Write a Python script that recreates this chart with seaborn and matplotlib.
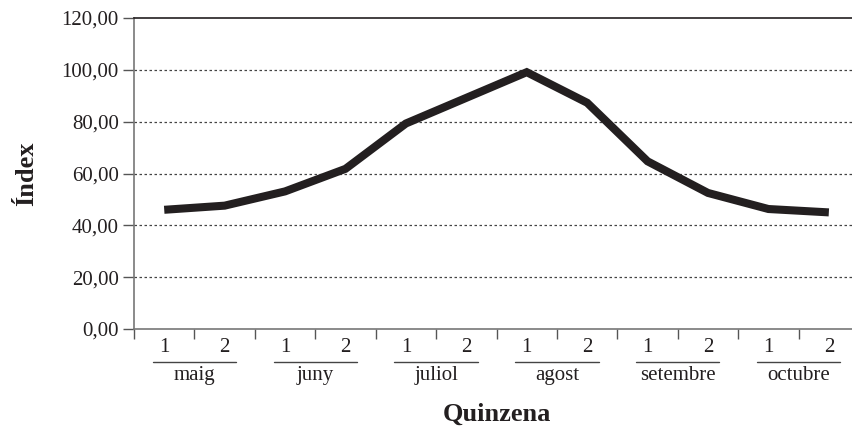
import numpy as np
import pandas as pd
import seaborn as sns
import matplotlib.pyplot as plt
from matplotlib.ticker import FuncFormatter

mesos = ['maig', 'juny', 'juliol', 'agost', 'setembre', 'octubre']
quinzenes = ['1', '2']
index_vals = [46.0, 47.6, 53.1, 61.8, 79.3, 89.2, 99.1, 87.3, 64.7, 52.5, 46.3, 45.0]
y_ticks = [0, 20, 40, 60, 80, 100, 120]

df = pd.DataFrame({'pos': np.arange(len(index_vals)),
                   'mes': np.repeat(mesos, 2),
                   'quinzena': quinzenes * len(mesos),
                   'index': index_vals})

sns.set_style('ticks')
plt.rcParams['font.family'] = ['Liberation Serif', 'DejaVu Serif']

fig = plt.figure(figsize=(8.53, 4.32), dpi=100)
ax = fig.add_axes([0.1571, 0.2384, 0.850, 0.7199])

ax.set_xlim(-0.5, len(index_vals) - 0.5)
ax.set_ylim(0, 120)

# dotted grid
for v in y_ticks[1:-1]:
    ax.axhline(v, color='#444444', linewidth=0.9, linestyle=(0, (2, 2)), zorder=1)

sns.lineplot(data=df, x='pos', y='index', color='#231f20', linewidth=5.8,
             ax=ax, zorder=3, solid_joinstyle='miter', solid_capstyle='butt')

# y axis
ax.set_yticks(y_ticks)
ax.yaxis.set_major_formatter(FuncFormatter(lambda v, p: f"{v:.2f}".replace('.', ',')))
ax.tick_params(axis='y', direction='out', length=8, width=1, color='#555555',
               labelsize=15, pad=3, labelcolor='#231f20')

# x axis: boundary ticks + quinzena labels
ax.set_xticks(np.arange(-0.5, len(index_vals), 1))
ax.set_xticklabels([])
ax.tick_params(axis='x', which='major', direction='out', length=7, width=1, color='#555555')
ax.set_xticks(df['pos'], minor=True)
ax.set_xticklabels(df['quinzena'], minor=True)
ax.tick_params(axis='x', which='minor', length=0, labelsize=15, pad=6.5, labelcolor='#231f20')

trans = ax.get_xaxis_transform()
for k, mes in enumerate(mesos):
    x0 = df['pos'][2 * k]
    ax.plot([x0 - 0.19, x0 + 1.19], [-0.106, -0.106], transform=trans, clip_on=False,
            color='#444444', linewidth=1)
    ax.text(x0 + 0.5, -0.164, mes, transform=trans, ha='center', va='baseline',
            fontsize=15, color='#231f20')

for side in ['left', 'bottom']:
    ax.spines[side].set_color('#777777')
    ax.spines[side].set_linewidth(1.2)
ax.spines['top'].set_color('#231f20')
ax.spines['top'].set_linewidth(1.2)
ax.spines['right'].set_visible(False)

ax.set_xlabel('Quinzena', fontsize=19, fontweight='bold', color='#231f20')
ax.set_ylabel('Índex', fontsize=19, fontweight='bold', color='#231f20')
ax.xaxis.set_label_coords(0.5, -0.238)
ax.yaxis.set_label_coords(-0.132, 0.5)

plt.savefig('out.png', dpi=100)
